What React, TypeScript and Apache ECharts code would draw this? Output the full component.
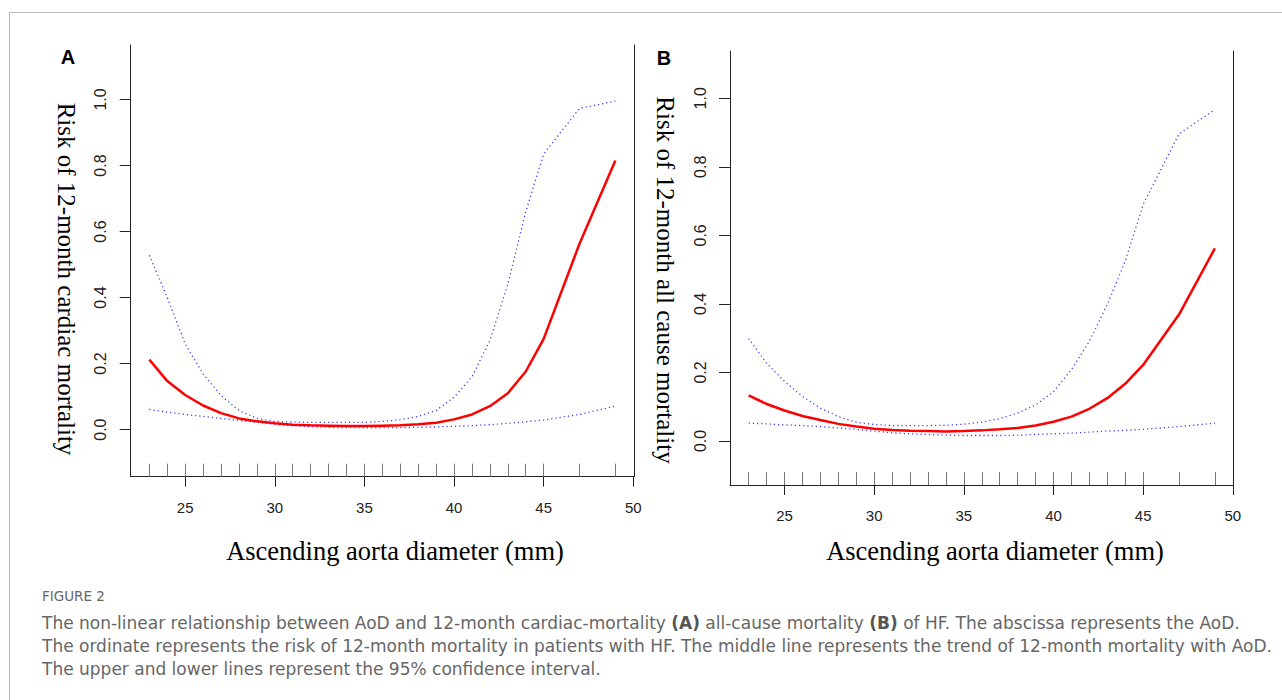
import React, { useEffect, useRef } from "react";
import * as echarts from "echarts";

// Aortic diameter values (mm) at which the curves are evaluated (also the rug marks)
const xs = [23, 24, 25, 26, 27, 28, 29, 30, 31, 32, 33, 34, 35, 36, 37, 38, 39, 40, 41, 42, 43, 44, 45, 47, 49];

// Panel A: 12-month cardiac mortality
const fitA = [0.212, 0.147, 0.105, 0.073, 0.050, 0.034, 0.025, 0.019, 0.015, 0.013, 0.012, 0.011, 0.011, 0.012, 0.013, 0.016, 0.021, 0.031, 0.046, 0.071, 0.110, 0.176, 0.275, 0.563, 0.815];
const upperA = [0.528, 0.400, 0.260, 0.169, 0.103, 0.058, 0.034, 0.025, 0.023, 0.022, 0.022, 0.022, 0.022, 0.025, 0.030, 0.040, 0.058, 0.098, 0.160, 0.270, 0.440, 0.660, 0.835, 0.973, 0.995];
const lowerA = [0.061, 0.053, 0.046, 0.040, 0.034, 0.028, 0.022, 0.016, 0.012, 0.009, 0.007, 0.006, 0.006, 0.006, 0.006, 0.007, 0.008, 0.010, 0.012, 0.015, 0.019, 0.024, 0.029, 0.046, 0.071];

// Panel B: 12-month all cause mortality
const fitB = [0.133, 0.108, 0.089, 0.073, 0.061, 0.050, 0.042, 0.036, 0.032, 0.030, 0.029, 0.028, 0.029, 0.031, 0.034, 0.038, 0.045, 0.056, 0.071, 0.094, 0.125, 0.167, 0.222, 0.369, 0.562];
const upperB = [0.299, 0.227, 0.174, 0.130, 0.096, 0.071, 0.055, 0.048, 0.045, 0.045, 0.045, 0.046, 0.049, 0.055, 0.065, 0.081, 0.105, 0.144, 0.208, 0.291, 0.398, 0.525, 0.690, 0.896, 0.967];
const lowerB = [0.052, 0.050, 0.047, 0.045, 0.042, 0.038, 0.034, 0.029, 0.024, 0.021, 0.019, 0.017, 0.016, 0.016, 0.016, 0.017, 0.019, 0.021, 0.023, 0.026, 0.029, 0.031, 0.034, 0.042, 0.052];

// Tick labels
const xTicks = [25, 30, 35, 40, 45, 50];
const yTicks = [0, 0.2, 0.4, 0.6, 0.8, 1.0];

const xTitle = "Ascending aorta diameter (mm)";
const yTitleA = "Risk of 12-month cardiac mortality";
const yTitleB = "Risk of 12-month all cause mortality";
const captionHead = "FIGURE 2";
const captionLines = [
  "The non-linear relationship between AoD and 12-month cardiac-mortality {b|(A)} all-cause mortality {b|(B)} of HF. The abscissa represents the AoD.",
  "The ordinate represents the risk of 12-month mortality in patients with HF. The middle line represents the trend of 12-month mortality with AoD.",
  "The upper and lower lines represent the 95% confidence interval.",
];

const AXIS = "#222";
const SANS = "'Liberation Sans', Arial, sans-serif";
const SERIF = "'Liberation Serif', 'Times New Roman', serif";
const CAP = "'DejaVu Sans', 'Noto Sans', sans-serif";

const pairs = (ys: number[]) => xs.map((x, i) => [x, ys[i]]);

export default function App() {
  const ref = useRef<HTMLDivElement>(null);
  useEffect(() => {
    if (!ref.current) return;
    const chart = echarts.init(ref.current, null, { renderer: "svg" });

    const X_MIN = 21.96;
    const X_MAX = 50.04;
    const yRange = [
      [-0.1426, 1.165],
      [-0.1284, 1.138],
    ];

    const mainX = (grid: number) => ({
      type: "value",
      gridIndex: grid,
      min: X_MIN,
      max: X_MAX,
      position: "bottom",
      axisLine: { show: true, onZero: false, lineStyle: { color: AXIS, width: 1 } },
      axisTick: { show: true, length: 10, customValues: xTicks, lineStyle: { color: AXIS } },
      axisLabel: {
        show: true,
        customValues: xTicks,
        formatter: (v: number) => String(v),
        fontSize: 15,
        fontFamily: SANS,
        color: AXIS,
        margin: 23,
      },
      splitLine: { show: false },
    });
    const rugX = (grid: number) => ({
      type: "value",
      gridIndex: grid,
      min: X_MIN,
      max: X_MAX,
      position: "bottom",
      axisLine: { show: false, onZero: false },
      axisTick: { show: true, inside: true, length: 13, customValues: xs, lineStyle: { color: "#777" } },
      axisLabel: { show: false },
      splitLine: { show: false },
    });
    const mainY = (grid: number) => ({
      type: "value",
      gridIndex: grid,
      min: yRange[grid][0],
      max: yRange[grid][1],
      position: "left",
      axisLine: { show: true, onZero: false, lineStyle: { color: AXIS, width: 1 } },
      axisTick: { show: true, length: 11, customValues: yTicks, lineStyle: { color: AXIS } },
      axisLabel: {
        show: true,
        customValues: yTicks,
        formatter: (v: number) => v.toFixed(1),
        rotate: 90,
        fontSize: 16,
        fontFamily: SANS,
        color: AXIS,
        margin: 22,
      },
      splitLine: { show: false },
    });
    const rightY = (grid: number) => ({
      type: "value",
      gridIndex: grid,
      min: yRange[grid][0],
      max: yRange[grid][1],
      position: "right",
      axisLine: { show: true, onZero: false, lineStyle: { color: AXIS, width: 1 } },
      axisTick: { show: false },
      axisLabel: { show: false },
      splitLine: { show: false },
    });

    const line = (data: number[], xi: number, yi: number, kind: "fit" | "ci") => ({
      type: "line",
      xAxisIndex: xi,
      yAxisIndex: yi,
      data: pairs(data),
      symbol: "none",
      smooth: false,
      silent: true,
      lineStyle:
        kind === "fit"
          ? { color: "#ff0000", width: 2.5 }
          : { color: "#3b3bff", width: 1.3, type: [1.2, 3] },
      z: kind === "fit" ? 3 : 2,
    });

    const capStyle = {
      fontFamily: CAP,
      fontSize: 17,
      fill: "#666",
      rich: { b: { fontFamily: CAP, fontSize: 17, fontWeight: "bold", fill: "#555" } },
    };

    chart.setOption({
      animation: false,
      backgroundColor: "#fff",
      grid: [
        { left: 130.7, top: 45, width: 503.3, height: 431.7 },
        { left: 730, top: 51, width: 503.5, height: 434 },
      ],
      xAxis: [mainX(0), rugX(0), mainX(1), rugX(1)],
      yAxis: [mainY(0), rightY(0), mainY(1), rightY(1)],
      series: [
        line(upperA, 0, 0, "ci"),
        line(lowerA, 0, 0, "ci"),
        line(fitA, 0, 0, "fit"),
        line(upperB, 2, 2, "ci"),
        line(lowerB, 2, 2, "ci"),
        line(fitB, 2, 2, "fit"),
      ],
      graphic: [
        { type: "line", shape: { x1: 9, y1: 12.5, x2: 1282, y2: 12.5 }, style: { stroke: "#bbb", lineWidth: 1 } },
        { type: "line", shape: { x1: 9.5, y1: 12, x2: 9.5, y2: 700 }, style: { stroke: "#bbb", lineWidth: 1 } },
        { type: "text", x: 68, y: 57, style: { text: "A", fontFamily: SANS, fontWeight: "bold", fontSize: 20, fill: "#000", textAlign: "center", textVerticalAlign: "middle" } },
        { type: "text", x: 664, y: 58, style: { text: "B", fontFamily: SANS, fontWeight: "bold", fontSize: 20, fill: "#000", textAlign: "center", textVerticalAlign: "middle" } },
        { type: "text", x: 66, y: 279, rotation: -Math.PI / 2, style: { text: yTitleA, fontFamily: SERIF, fontSize: 25, fill: "#000", textAlign: "center", textVerticalAlign: "middle" } },
        { type: "text", x: 665, y: 280, rotation: -Math.PI / 2, style: { text: yTitleB, fontFamily: SERIF, fontSize: 25, fill: "#000", textAlign: "center", textVerticalAlign: "middle" } },
        { type: "text", x: 395, y: 551, style: { text: xTitle, fontFamily: SERIF, fontSize: 26.5, fill: "#000", textAlign: "center", textVerticalAlign: "middle" } },
        { type: "text", x: 995, y: 551, style: { text: xTitle, fontFamily: SERIF, fontSize: 26.5, fill: "#000", textAlign: "center", textVerticalAlign: "middle" } },
        { type: "text", x: 42, y: 596, style: { text: captionHead, fontFamily: CAP, fontSize: 13.5, fill: "#666", textVerticalAlign: "middle" } },
        ...captionLines.map((t, i) => ({
          type: "text",
          x: 42,
          y: 623 + i * 23,
          style: { text: t, textVerticalAlign: "middle", ...capStyle },
        })),
      ],
    });
    return () => chart.dispose();
  }, []);
  return (
    <div
      ref={ref}
      style={{ position: "fixed", left: 0, top: 0, width: 1282, height: 700, background: "#fff" }}
    />
  );
}
